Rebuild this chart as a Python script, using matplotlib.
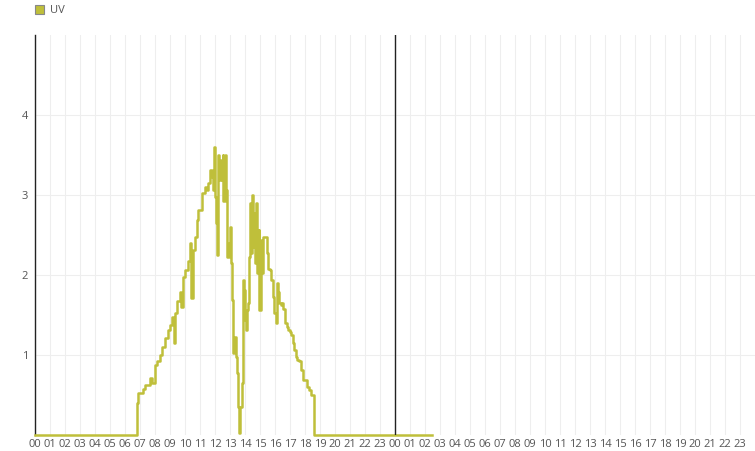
import numpy as np
import matplotlib
matplotlib.use('Agg')
import matplotlib.pyplot as plt
from matplotlib.patches import Patch

plt.rcParams['font.family'] = ['Open Sans', 'DejaVu Sans']

# hours since midnight of the first day, UV index
hours = [0.0, 6.80, 6.87, 7.18, 7.33, 7.67, 7.78, 8.0, 8.11, 8.33, 8.44, 8.67, 8.89,
	9.0, 9.11, 9.29, 9.33, 9.44, 9.67, 9.73, 9.89, 10.0, 10.22, 10.33, 10.4, 10.55,
	10.67, 10.78, 10.89, 11.11, 11.33, 11.44, 11.55, 11.67, 11.78, 11.85, 11.93,
	12.0, 12.07, 12.11, 12.22, 12.29, 12.38, 12.45, 12.51, 12.55, 12.67, 12.73,
	12.78, 12.82, 12.91, 13.0, 13.05, 13.11, 13.18, 13.22, 13.29, 13.4, 13.45,
	13.51, 13.62, 13.67, 13.78, 13.85, 13.89, 13.93, 14.0, 14.07, 14.11, 14.22,
	14.27, 14.33, 14.38, 14.45, 14.51, 14.6, 14.67, 14.73, 14.82, 14.91, 14.95,
	15.05, 15.13, 15.22, 15.33, 15.45, 15.55, 15.67, 15.73, 15.85, 15.95, 16.05,
	16.11, 16.22, 16.29, 16.38, 16.45, 16.55, 16.67, 16.78, 16.89, 17.0, 17.07,
	17.18, 17.29, 17.38, 17.45, 17.62, 17.73, 17.89, 18.07, 18.15, 18.29, 18.4,
	18.55, 18.63, 26.47]
uv = [0.0, 0.4, 0.52, 0.58, 0.62, 0.71, 0.65, 0.875, 0.92, 1.0, 1.1, 1.21, 1.31,
	1.375, 1.48, 1.15, 1.52, 1.67, 1.79, 1.6, 1.98, 2.06, 2.17, 2.4, 1.71, 2.31,
	2.48, 2.69, 2.81, 3.02, 3.1, 3.06, 3.15, 3.31, 3.23, 3.06, 3.6,
	2.98, 2.65, 2.25, 3.5, 3.19, 3.44, 3.19, 3.5, 2.92, 3.5, 3.06,
	2.48, 2.23, 2.4, 2.6, 2.15, 1.69, 1.27, 1.02, 1.23, 0.98, 0.77,
	0.35, 0.02, 0.35, 0.65, 1.44, 1.94, 1.81, 1.44, 1.31, 1.56, 1.65,
	2.23, 2.9, 2.27, 3.0, 2.35, 2.77, 2.15, 2.9, 2.02, 2.56, 1.56,
	2.44, 2.02, 2.48, 2.48, 2.27, 2.08, 2.06, 1.94, 1.73, 1.52, 1.4,
	1.9, 1.79, 1.65, 1.63, 1.65, 1.58, 1.4, 1.35, 1.31, 1.29, 1.25,
	1.15, 1.06, 0.98, 0.94, 0.92, 0.81, 0.69, 0.69, 0.6, 0.56, 0.5,
	0.5, 0.0, 0.0]

hour_labels = ['%02d' % (h % 24) for h in range(48)]

fig = plt.figure(figsize=(7.55, 4.51), dpi=100)
ax = fig.add_axes([35/755, 1-435/451, 720/755, 400/451])

ax.step(hours, uv, where='post', color='#bfbf3a', lw=1.8, zorder=3, clip_on=False)
ax.axvline(24, color='#222222', lw=1, zorder=4)

ax.set_xlim(0, 48)
ax.set_ylim(0, 5)
ax.set_xticks(range(48))
ax.set_xticklabels(hour_labels)
ax.set_yticks([1, 2, 3, 4])
ax.tick_params(length=0, labelsize=8, colors='#555555', pad=3)
ax.tick_params(axis='y', pad=5)
ax.grid(True, color='#eeeeee', lw=0.8)
ax.set_axisbelow(True)
for s in ['top', 'right', 'bottom']:
	ax.spines[s].set_visible(False)
ax.spines['left'].set_color('#222222')
ax.spines['left'].set_linewidth(1)

fig.legend(handles=[Patch(facecolor='#bfbf3a', edgecolor='#888888', lw=0.8)], labels=['UV'],
	loc='upper left', bbox_to_anchor=(25/755, 1.011), frameon=False, fontsize=8,
	handlelength=0.85, handleheight=0.85, handletextpad=0.5, labelcolor='#555555')

fig.savefig('out.png', dpi=100)
